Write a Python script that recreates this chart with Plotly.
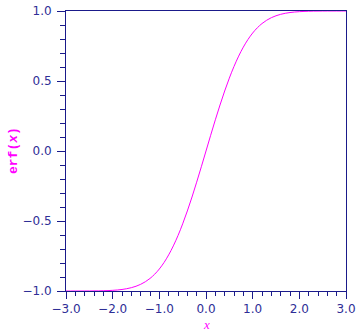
import plotly.graph_objects as go

x_vals = [-3.0, -2.9, -2.8, -2.7, -2.6, -2.5, -2.4, -2.3, -2.2, -2.1, -2.0,
          -1.9, -1.8, -1.7, -1.6, -1.5, -1.4, -1.3, -1.2, -1.1, -1.0,
          -0.9, -0.8, -0.7, -0.6, -0.5, -0.4, -0.3, -0.2, -0.1, 0.0,
          0.1, 0.2, 0.3, 0.4, 0.5, 0.6, 0.7, 0.8, 0.9, 1.0,
          1.1, 1.2, 1.3, 1.4, 1.5, 1.6, 1.7, 1.8, 1.9, 2.0,
          2.1, 2.2, 2.3, 2.4, 2.5, 2.6, 2.7, 2.8, 2.9, 3.0]
erf_vals = [-1.0000, -1.0000, -0.9999, -0.9999, -0.9998, -0.9996, -0.9993, -0.9989, -0.9981, -0.9970, -0.9953,
            -0.9928, -0.9891, -0.9838, -0.9763, -0.9661, -0.9523, -0.9340, -0.9103, -0.8802, -0.8427,
            -0.7969, -0.7421, -0.6778, -0.6039, -0.5205, -0.4284, -0.3286, -0.2227, -0.1125, 0.0,
            0.1125, 0.2227, 0.3286, 0.4284, 0.5205, 0.6039, 0.6778, 0.7421, 0.7969, 0.8427,
            0.8802, 0.9103, 0.9340, 0.9523, 0.9661, 0.9763, 0.9838, 0.9891, 0.9928, 0.9953,
            0.9970, 0.9981, 0.9989, 0.9993, 0.9996, 0.9998, 0.9999, 0.9999, 1.0000, 1.0000]

x_title = "<i>x</i>"
y_title = "<b>erf(</b><b><i>x</i></b><b>)</b>"

axis_color = "#1a1a8a"
label_color = "#2e2e96"
title_color = "#ff00ff"

fig = go.Figure()
fig.add_trace(go.Scatter(x=x_vals, y=erf_vals, mode="lines",
                         line=dict(color="#ff00ff", width=1, shape="spline"),
                         hoverinfo="skip", showlegend=False))

fig.update_layout(
    width=361, height=331,
    margin=dict(l=66, r=15, t=11, b=40, autoexpand=False),
    paper_bgcolor="white", plot_bgcolor="white",
    font=dict(family="DejaVu Sans, sans-serif", size=12, color=label_color),
    xaxis=dict(range=[-3, 3], dtick=1, tick0=-3, tickformat=".1f",
               showline=True, linecolor=axis_color, linewidth=1, mirror=True,
               ticks="outside", ticklen=7, tickcolor=axis_color, tickwidth=1,
               ticklabelstandoff=0,
               minor=dict(dtick=0.2, ticklen=4, tickcolor=axis_color, ticks="outside"),
               showgrid=False, zeroline=False, fixedrange=True, automargin=False),
    yaxis=dict(range=[-1, 1], dtick=0.5, tick0=-1, tickformat=".1f",
               showline=True, linecolor=axis_color, linewidth=1, mirror=True,
               ticks="outside", ticklen=8, tickcolor=axis_color, tickwidth=1,
               ticklabelstandoff=3,
               minor=dict(dtick=0.1, ticklen=5, tickcolor=axis_color, ticks="outside"),
               showgrid=False, zeroline=False, fixedrange=True, automargin=False),
    annotations=[
        dict(text=x_title, xref="paper", yref="paper", x=0.5, y=0,
             xanchor="center", yanchor="middle", yshift=-33, showarrow=False,
             font=dict(family="Liberation Serif, serif", size=13, color=title_color)),
        dict(text=y_title, xref="paper", yref="paper", x=0, y=0.5,
             xanchor="center", yanchor="middle", xshift=-53, textangle=-90, showarrow=False,
             font=dict(family="Liberation Mono, monospace", size=13, color=title_color)),
    ],
)

fig.write_html("out.html")
